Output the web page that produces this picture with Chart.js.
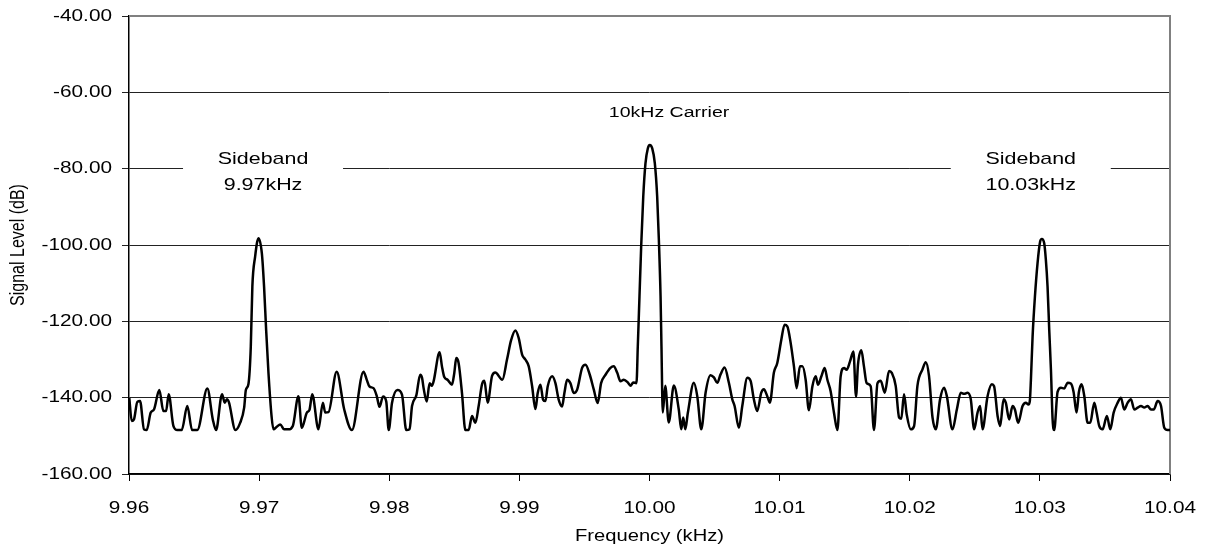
<!DOCTYPE html>
<html>
<head>
<meta charset="utf-8">
<script src="https://cdn.jsdelivr.net/npm/chart.js@4.4.1/dist/chart.umd.min.js"></script>
<style>
  html, body { margin: 0; padding: 0; background: #fff; }
  #wrap { width: 1208px; height: 556px; }
</style>
</head>
<body>
<div id="wrap"><canvas id="spectrum" width="1208" height="556"></canvas></div>
<script>
// spectrum (kHz / dB)
const freq = [
  9.96002, 9.96021, 9.96038, 9.96064, 9.96085, 9.96115, 9.96136, 9.96167, 9.96192, 9.96233,
  9.96264, 9.96285, 9.96305, 9.96341, 9.96372, 9.96405, 9.96448, 9.96485, 9.96525, 9.96602,
  9.96644, 9.96669, 9.96715, 9.96736, 9.96752, 9.96767, 9.96818, 9.96854, 9.96885, 9.96898,
  9.96918, 9.96936, 9.96948, 9.96969, 9.96995, 9.97021, 9.97038, 9.97054, 9.97072, 9.97096,
  9.97110, 9.97136, 9.97162, 9.97192, 9.97225, 9.97259, 9.97302, 9.97328, 9.97367, 9.97387,
  9.97408, 9.97456, 9.97490, 9.97508, 9.97533, 9.97596, 9.97654, 9.97713, 9.97802, 9.97828,
  9.97848, 9.97879, 9.97905, 9.97925, 9.97952, 9.97977, 9.97996, 9.98021, 9.98062, 9.98098,
  9.98131, 9.98156, 9.98175, 9.98208, 9.98238, 9.98252, 9.98264, 9.98288, 9.98310, 9.98328,
  9.98341, 9.98387, 9.98405, 9.98423, 9.98448, 9.98482, 9.98500, 9.98515, 9.98533, 9.98559,
  9.98585, 9.98610, 9.98636, 9.98662, 9.98687, 9.98713, 9.98731, 9.98756, 9.98790, 9.98815,
  9.98869, 9.98905, 9.98936, 9.98969, 9.98995, 9.99021, 9.99046, 9.99072, 9.99098, 9.99123,
  9.99141, 9.99162, 9.99182, 9.99200, 9.99218, 9.99252, 9.99277, 9.99302, 9.99328, 9.99346,
  9.99367, 9.99392, 9.99418, 9.99444, 9.99482, 9.99508, 9.99541, 9.99572, 9.99602, 9.99628,
  9.99662, 9.99700, 9.99725, 9.99752, 9.99777, 9.99802, 9.99833, 9.99854, 9.99875, 9.99900,
  9.99910, 9.99923, 9.99936, 9.99952, 9.99969, 9.99987, 10.00002, 10.00021, 10.00041, 10.00059,
  10.00072, 10.00085, 10.00092, 10.00102, 10.00121, 10.00148, 10.00187, 10.00225, 10.00244, 10.00259,
  10.00275, 10.00295, 10.00341, 10.00367, 10.00398, 10.00431, 10.00469, 10.00495, 10.00521, 10.00546,
  10.00577, 10.00610, 10.00636, 10.00654, 10.00687, 10.00713, 10.00752, 10.00777, 10.00802, 10.00828,
  10.00859, 10.00879, 10.00905, 10.00925, 10.00956, 10.00982, 10.01013, 10.01038, 10.01059, 10.01085,
  10.01110, 10.01131, 10.01156, 10.01175, 10.01200, 10.01225, 10.01252, 10.01277, 10.01295, 10.01321,
  10.01346, 10.01367, 10.01392, 10.01418, 10.01444, 10.01469, 10.01495, 10.01515, 10.01541, 10.01567,
  10.01587, 10.01602, 10.01628, 10.01648, 10.01669, 10.01700, 10.01725, 10.01752, 10.01777, 10.01808,
  10.01841, 10.01862, 10.01892, 10.01918, 10.01935, 10.01956, 10.01977, 10.02008, 10.02033, 10.02059,
  10.02098, 10.02123, 10.02148, 10.02175, 10.02200, 10.02233, 10.02264, 10.02285, 10.02328, 10.02362,
  10.02392, 10.02418, 10.02444, 10.02469, 10.02495, 10.02521, 10.02541, 10.02559, 10.02598, 10.02631,
  10.02648, 10.02675, 10.02695, 10.02721, 10.02738, 10.02764, 10.02790, 10.02808, 10.02833, 10.02867,
  10.02892, 10.02912, 10.02923, 10.02931, 10.02944, 10.02962, 10.02982, 10.03002, 10.03015, 10.03033,
  10.03046, 10.03059, 10.03072, 10.03085, 10.03098, 10.03110, 10.03136, 10.03162, 10.03187, 10.03213,
  10.03238, 10.03259, 10.03282, 10.03300, 10.03321, 10.03341, 10.03367, 10.03387, 10.03418, 10.03436,
  10.03456, 10.03482, 10.03515, 10.03541, 10.03567, 10.03598, 10.03623, 10.03648, 10.03675, 10.03700,
  10.03725, 10.03752, 10.03777, 10.03802, 10.03828, 10.03854, 10.03875, 10.03905, 10.03931, 10.03956,
  10.03982, 10.04000
];
const level = [
  -140.0, -146.1, -145.7, -141.1, -140.9, -148.3, -148.5, -143.9, -143.1, -138.0,
  -143.5, -143.5, -139.1, -147.4, -148.5, -148.5, -142.2, -148.5, -148.5, -137.6,
  -145.7, -148.5, -139.1, -141.3, -140.4, -141.1, -148.5, -146.6, -142.6, -138.0,
  -136.4, -126.6, -110.9, -103.1, -98.2, -102.2, -110.9, -122.3, -133.6, -145.0,
  -148.3, -147.6, -147.0, -148.3, -148.3, -147.4, -139.6, -147.9, -143.9, -143.2,
  -139.1, -148.3, -141.3, -143.9, -143.8, -133.2, -143.1, -148.5, -133.2, -135.4,
  -137.1, -137.5, -139.7, -142.4, -139.7, -141.0, -148.5, -141.4, -138.0, -139.2,
  -148.5, -148.3, -142.2, -139.4, -134.0, -134.8, -137.5, -141.0, -136.2, -136.9,
  -135.7, -128.1, -131.8, -134.6, -135.3, -136.6, -133.5, -129.6, -130.9, -138.8,
  -148.5, -148.5, -144.8, -146.6, -142.2, -136.5, -135.6, -141.3, -134.3, -133.4,
  -135.3, -130.0, -125.0, -122.4, -124.4, -128.7, -130.0, -131.8, -137.0, -143.0,
  -138.8, -136.6, -140.5, -140.9, -137.0, -134.4, -136.2, -140.5, -142.3, -138.8,
  -135.3, -136.2, -138.8, -137.9, -132.2, -131.4, -134.0, -137.9, -141.4, -136.2,
  -134.0, -132.2, -131.8, -133.5, -135.7, -135.3, -136.0, -136.9, -136.0, -136.2,
  -126.6, -113.5, -100.4, -87.3, -78.6, -74.7, -73.8, -74.7, -78.6, -87.3,
  -98.7, -113.5, -126.6, -143.9, -136.9, -146.5, -136.8, -143.1, -148.3, -145.2,
  -148.3, -143.9, -136.1, -139.6, -148.3, -138.7, -134.1, -134.7, -136.1, -133.9,
  -132.1, -136.1, -140.4, -142.2, -147.9, -142.2, -134.8, -135.6, -140.4, -143.5,
  -138.7, -137.8, -139.6, -141.3, -133.4, -130.9, -124.8, -120.9, -121.3, -125.7,
  -131.8, -137.5, -131.8, -131.8, -135.3, -143.3, -137.0, -134.4, -136.6, -134.4,
  -132.2, -135.3, -138.3, -144.0, -148.5, -134.4, -132.2, -132.7, -130.5, -127.9,
  -139.7, -131.4, -127.6, -131.8, -136.2, -137.0, -148.5, -136.2, -135.6, -138.7,
  -133.0, -133.5, -136.9, -145.2, -145.5, -139.1, -144.5, -148.3, -147.5, -136.9,
  -132.6, -130.7, -134.3, -145.2, -148.3, -140.4, -137.4, -139.6, -148.3, -143.1,
  -138.7, -139.0, -138.7, -140.4, -148.3, -143.9, -142.2, -148.3, -139.6, -136.5,
  -137.0, -144.8, -147.4, -140.4, -141.3, -145.7, -142.2, -143.1, -146.6, -142.2,
  -141.3, -141.8, -140.8, -135.4, -124.0, -113.5, -104.8, -99.1, -98.4, -99.5,
  -103.9, -110.9, -122.3, -132.7, -145.8, -148.5, -138.5, -137.4, -137.6, -136.1,
  -136.3, -138.5, -143.9, -138.5, -136.5, -139.5, -146.6, -146.6, -141.3, -143.9,
  -147.4, -148.3, -144.8, -148.3, -143.9, -141.3, -140.0, -143.1, -141.3, -140.4,
  -143.1, -142.6, -142.2, -142.6, -142.2, -143.1, -143.1, -140.9, -142.2, -147.9,
  -148.5, -148.5
];

const noteText = ['10kHz Carrier', 'Sideband', '9.97kHz', 'Sideband', '10.03kHz'];
const noteFreq = [10.0015, 9.9703, 9.9703, 10.0293, 10.0293];
const noteLevel = [-65.3, -77.6, -84.4, -77.6, -84.4];
const noteSize = [15.5, 17, 17, 17, 17];

const FONT = 'Liberation Sans, Arial, sans-serif';
const WIDE = 1.26; // the original text is drawn a little stretched sideways

function wideText(ctx, txt, x, y, size, align) {
  ctx.save();
  ctx.translate(x, y);
  ctx.scale(WIDE, 1);
  ctx.font = size + 'px ' + FONT;
  ctx.textAlign = align;
  ctx.textBaseline = 'middle';
  ctx.fillText(txt, 0, 0);
  ctx.restore();
}

// white boxes behind the sideband labels, grey top/right frame, all texts
const notes = {
  id: 'notes',
  beforeDatasetsDraw(chart) {
    const { ctx, chartArea: a } = chart;
    const xs = chart.scales.x, ys = chart.scales.y;
    ctx.save();
    ctx.fillStyle = '#fff';
    [1, 3].forEach(i => {
      const cx = xs.getPixelForValue(noteFreq[i]);
      const y1 = ys.getPixelForValue(noteLevel[i]) - 12;
      const y2 = ys.getPixelForValue(noteLevel[i + 1]) + 12;
      ctx.fillRect(cx - 80, y1, 160, y2 - y1);
    });
    ctx.strokeStyle = '#808080';
    ctx.lineWidth = 2;
    ctx.beginPath();
    ctx.moveTo(a.left, a.top);
    ctx.lineTo(a.right, a.top);
    ctx.lineTo(a.right, a.bottom);
    ctx.stroke();
    ctx.restore();
  },
  afterDraw(chart) {
    const { ctx, chartArea: a } = chart;
    const xs = chart.scales.x, ys = chart.scales.y;
    ctx.save();
    ctx.fillStyle = '#000';
    noteText.forEach((t, i) => {
      wideText(ctx, t, xs.getPixelForValue(noteFreq[i]), ys.getPixelForValue(noteLevel[i]), noteSize[i], 'center');
    });
    ys.ticks.forEach(t => {
      wideText(ctx, t.value.toFixed(2), a.left - 17, ys.getPixelForValue(t.value), 16.5, 'right');
    });
    xs.ticks.forEach(t => {
      wideText(ctx, t.value.toFixed(2), xs.getPixelForValue(t.value), a.bottom + 34, 16.5, 'center');
    });
    wideText(ctx, 'Frequency (kHz)', (a.left + a.right) / 2, a.bottom + 63, 16, 'center');
    // rotated title: the sideways stretch becomes glyph thickness
    ctx.translate(18, (a.top + a.bottom) / 2);
    ctx.rotate(-Math.PI / 2);
    ctx.scale(1, WIDE);
    ctx.font = '16px ' + FONT;
    ctx.textAlign = 'center';
    ctx.textBaseline = 'middle';
    ctx.fillText('Signal Level (dB)', 0, 0);
    ctx.restore();
  }
};

new Chart(document.getElementById('spectrum'), {
  type: 'line',
  data: {
    datasets: [{
      data: freq.map((f, i) => ({ x: f, y: level[i] })),
      borderColor: '#000',
      borderWidth: 2.5,
      pointRadius: 0,
      cubicInterpolationMode: 'monotone',
      fill: false
    }]
  },
  options: {
    responsive: false,
    animation: false,
    layout: { padding: { left: 0, top: 16, right: 38, bottom: 0 } },
    plugins: { legend: { display: false }, tooltip: { enabled: false } },
    scales: {
      x: {
        type: 'linear',
        min: 9.96,
        max: 10.04,
        afterFit: s => { s.height = 82; },
        ticks: { display: false, stepSize: 0.01 },
        grid: { drawOnChartArea: false, drawTicks: true, tickLength: 7, color: '#000' },
        border: { color: '#000', width: 1.5 }
      },
      y: {
        min: -160,
        max: -40,
        afterFit: s => { s.width = 129; },
        ticks: { display: false, stepSize: 20 },
        grid: { color: '#222', lineWidth: 1, tickLength: 7 },
        border: { color: '#000', width: 1.5 }
      }
    }
  },
  plugins: [notes]
});
</script>
</body>
</html>
